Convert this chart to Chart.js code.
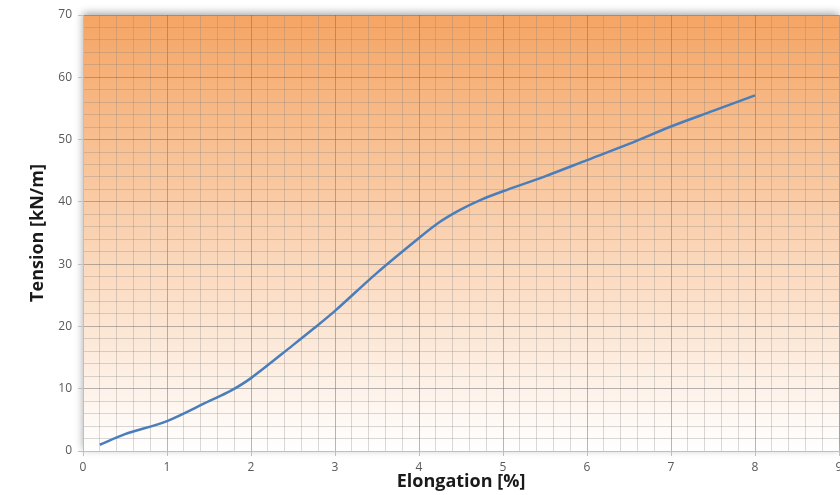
<!DOCTYPE html>
<html>
<head>
<meta charset="utf-8">
<script src="https://cdn.jsdelivr.net/npm/chart.js@4/dist/chart.umd.min.js"></script>
<style>
  html, body { margin: 0; padding: 0; background: #fff; overflow: hidden; }
  #wrap { width: 860px; height: 495px; }
</style>
</head>
<body>
<div id="wrap"><canvas id="chart" width="860" height="495"></canvas></div>
<script>
    'use strict';

    // elongation [%] and tension [kN/m]
    var elongation = [0.2, 0.5, 1.0, 1.5, 1.75, 2.0, 2.5, 2.75, 3.0, 3.5, 4.0, 4.25, 4.5, 4.75, 5.0, 5.5, 6.0, 6.5, 7.0, 7.5, 8.0];
    var tension    = [1.0, 2.7, 4.8, 8.0, 9.6, 11.7, 17.0, 19.7, 22.5, 28.6, 34.2, 36.8, 38.8, 40.4, 41.7, 44.1, 46.7, 49.3, 52.1, 54.6, 57.1];

    var xMin = 0, xMax = 9, xStep = 0.2;
    var yMin = 0, yMax = 70, yStep = 2;

    var points = elongation.map(function (x, i) { return { x: x, y: tension[i] }; });

    function isMajor(v, every) {
        var r = v / every;
        return Math.abs(r - Math.round(r)) < 1e-6;
    }

    var FONT = '"Open Sans", "Liberation Sans", sans-serif';

    // orange to white fill with a soft shadow along the top
    var plotBackground = {
        id: 'plotBackground',
        beforeDraw: function (chart) {
            var ctx = chart.ctx;
            var a = chart.chartArea;
            var grad = ctx.createLinearGradient(0, a.top, 0, a.bottom);
            grad.addColorStop(0, '#f5a564');
            grad.addColorStop(1, '#ffffff');
            ctx.save();
            ctx.shadowColor = 'rgba(0,0,0,0.35)';
            ctx.shadowBlur = 8;
            ctx.shadowOffsetY = -2;
            ctx.fillStyle = grad;
            ctx.fillRect(a.left, a.top, a.right - a.left, a.bottom - a.top);
            ctx.restore();
        }
    };

    new Chart(document.getElementById('chart'), {
        type: 'scatter',
        data: {
            datasets: [{
                data: points,
                showLine: true,
                borderColor: '#4a7ebb',
                borderWidth: 2.5,
                pointRadius: 0,
                tension: 0.3,
                fill: false
            }]
        },
        options: {
            responsive: false,
            animation: false,
            layout: { padding: { top: 15, right: 21, left: 0, bottom: 0 } },
            plugins: { legend: { display: false }, tooltip: { enabled: false } },
            scales: {
                x: {
                    type: 'linear',
                    min: xMin, max: xMax,
                    afterFit: function (s) { s.height = 44; },
                    border: { color: '#bfbfbf', width: 1 },
                    grid: {
                        color: function (c) { return isMajor(c.tick.value, 1) ? 'rgba(110,110,110,0.5)' : 'rgba(128,128,128,0.3)'; },
                        tickColor: function (c) { return isMajor(c.tick.value, 1) ? '#bfbfbf' : 'rgba(0,0,0,0)'; },
                        tickLength: 5
                    },
                    ticks: {
                        stepSize: xStep,
                        autoSkip: false,
                        maxRotation: 0,
                        padding: 4,
                        color: '#595959',
                        font: { family: FONT, size: 12 },
                        callback: function (v) { return isMajor(v, 1) ? String(Math.round(v)) : ''; }
                    },
                    title: {
                        display: true,
                        text: 'Elongation [%]',
                        color: '#1a1a1a',
                        font: { family: FONT, size: 18, weight: 'bold' },
                        padding: { top: 0, bottom: 2 }
                    }
                },
                y: {
                    type: 'linear',
                    min: yMin, max: yMax,
                    afterFit: function (s) { s.width = 83; },
                    border: { color: '#bfbfbf', width: 1 },
                    grid: {
                        color: function (c) { return isMajor(c.tick.value, 10) ? 'rgba(110,110,110,0.5)' : 'rgba(128,128,128,0.3)'; },
                        tickColor: function (c) { return isMajor(c.tick.value, 10) ? '#bfbfbf' : 'rgba(0,0,0,0)'; },
                        tickLength: 5
                    },
                    ticks: {
                        stepSize: yStep,
                        autoSkip: false,
                        padding: 6,
                        color: '#595959',
                        font: { family: FONT, size: 12 },
                        callback: function (v) { return isMajor(v, 10) ? String(Math.round(v)) : ''; }
                    },
                    title: {
                        display: true,
                        text: 'Tension [kN/m]',
                        color: '#1a1a1a',
                        font: { family: FONT, size: 18, weight: 'bold' },
                        padding: { top: 27, bottom: 0 }
                    }
                }
            }
        },
        plugins: [plotBackground]
    });
</script>
</body>
</html>
